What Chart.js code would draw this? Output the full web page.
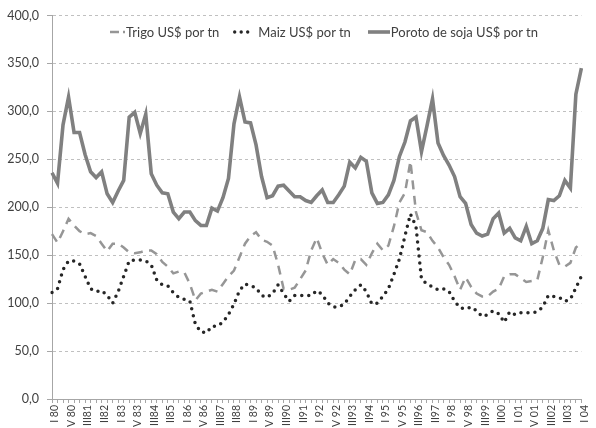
<!DOCTYPE html>
<html>
<head>
<meta charset="utf-8">
<script src="https://cdn.jsdelivr.net/npm/chart.js@4.4.1/dist/chart.umd.min.js"></script>
<style>
html, body { margin: 0; padding: 0; overflow: hidden; background: #fff; }
#caja { position: relative; width: 596px; height: 428px; overflow: hidden; }
#leyenda {
    position: absolute; left: 52px; width: 544px; top: 23px; height: 18px;
    display: flex; justify-content: center; align-items: center;
    font-family: Lato, "Open Sans", sans-serif; font-size: 13px; color: #404040;
    white-space: nowrap;
}
#leyenda .item { display: flex; align-items: center; }
#leyenda svg { display: block; }
</style>
</head>
<body>
<div id="caja">
    <canvas id="grafico" width="596" height="442"></canvas>
    <div id="leyenda"></div>
</div>
<script>
// trimestres I 80 ... I 04, con etiqueta cada 3 trimestres
const romanos = ['I ', 'II', 'III', 'IV '];
const categorias = [];
for (let a = 80; a <= 104; a++) {
    for (let t = 0; t < 4; t++) {
        if (categorias.length < 97) categorias.push(romanos[t] + String(a % 100).padStart(2, '0'));
    }
}

const trigo = [172, 163, 175, 188, 181, 175, 172, 173, 170, 162, 154, 162, 162, 158, 153, 152, 153, 155, 155, 151,
    143, 138, 131, 133, 132, 120, 103, 110, 112, 114, 112, 120, 128, 134, 148, 162, 170, 174, 166, 164,
    160, 140, 115, 114, 116, 125, 134, 155, 168, 152, 140, 146, 142, 135, 130, 145, 146, 140, 152, 162,
    155, 160, 180, 205, 215, 248, 195, 176, 174, 165, 158, 148, 140, 128, 114, 127, 117, 110, 107, 107,
    112, 115, 128, 130, 130, 126, 122, 123, 124, 148, 176, 155, 140, 138, 142, 158, 163];

const maiz = [111, 115, 135, 144, 144, 141, 128, 115, 112, 113, 108, 100, 112, 128, 144, 145, 145, 144, 140, 124,
    119, 118, 111, 106, 104, 102, 78, 70, 69, 76, 76, 80, 88, 99, 113, 120, 118, 116, 108, 106,
    110, 119, 110, 102, 108, 108, 108, 108, 113, 109, 100, 96, 96, 99, 107, 114, 119, 112, 99, 100,
    107, 115, 130, 146, 170, 193, 180, 125, 120, 117, 114, 115, 112, 102, 95, 94, 96, 92, 86, 88,
    92, 89, 80, 91, 88, 90, 90, 90, 91, 96, 108, 107, 106, 102, 104, 116, 128];

const soja = [236, 225, 286, 315, 278, 278, 255, 237, 231, 237, 214, 205, 217, 228, 294, 299, 277, 297, 235, 223,
    215, 214, 195, 188, 195, 195, 186, 181, 181, 199, 196, 210, 230, 287, 315, 289, 288, 265, 232, 210,
    212, 222, 223, 217, 211, 211, 207, 205, 212, 218, 205, 205, 213, 222, 247, 241, 252, 248, 215, 204,
    205, 213, 228, 253, 268, 290, 294, 258, 285, 313, 267, 254, 244, 232, 211, 204, 182, 173, 170, 172,
    188, 194, 173, 178, 168, 165, 180, 162, 165, 178, 208, 207, 212, 228, 220, 318, 345];

const fuente = 'Lato, "Open Sans", sans-serif';
const ctx = document.getElementById('grafico').getContext('2d');

const grafico = new Chart(ctx, {
    type: 'line',
    data: {
        labels: categorias,
        datasets: [
            {
                label: 'Trigo US$ por tn', data: trigo,
                borderColor: '#969696', borderWidth: 2.5, borderDash: [9, 6.5],
                pointRadius: 0, tension: 0, fill: false
            },
            {
                label: 'Maiz US$ por tn', data: maiz,
                borderColor: '#262626', borderWidth: 3.5, borderDash: [0, 7], borderCapStyle: 'round',
                pointRadius: 0, tension: 0, fill: false
            },
            {
                label: 'Poroto de soja US$ por tn', data: soja,
                borderColor: '#808080', borderWidth: 3.6,
                pointRadius: 0, tension: 0, fill: false
            }
        ]
    },
    options: {
        responsive: false,
        animation: false,
        layout: { padding: { top: 12, right: 1, left: 0, bottom: 0 } },
        plugins: {
            tooltip: { enabled: false },
            legend: { display: false }
        },
        scales: {
            x: {
                offset: false,
                grid: { drawOnChartArea: false, drawTicks: true, tickLength: 4, color: '#a6a6a6' },
                border: { color: '#a6a6a6' },
                ticks: {
                    autoSkip: false, minRotation: 90, maxRotation: 90, padding: 2, labelOffset: 3,
                    color: '#404040', font: { family: fuente, size: 10.5 },
                    callback: (v, i) => (i % 3 === 0 ? categorias[i] : '')
                },
                afterFit: s => { s.height = 43; }
            },
            y: {
                min: 0, max: 400,
                grid: { color: '#c0c0c0', tickColor: '#a6a6a6', tickLength: 5 },
                border: { color: '#a6a6a6', dash: [3, 3] },
                ticks: {
                    stepSize: 50, padding: 8, color: '#404040',
                    font: { family: fuente, size: 12.5 },
                    callback: v => v.toFixed(1).replace('.', ',')
                },
                afterFit: s => { s.width = 52; }
            }
        }
    }
});

// leyenda en html sobre el area del grafico
const muestras = [
    { ancho: 15, sep: 1, despues: 14, trazo: 'stroke-width="2.5" stroke-dasharray="9,4"' },
    { ancho: 17, sep: 8, despues: 17, trazo: 'stroke-width="3.4" stroke-dasharray="0,6.5" stroke-linecap="round"' },
    { ancho: 22, sep: 1, despues: 0, trazo: 'stroke-width="3.6"' }
];
const leyenda = document.getElementById('leyenda');
grafico.data.datasets.forEach((ds, i) => {
    const m = muestras[i];
    const x0 = i === 1 ? 1.7 : 0;
    const item = document.createElement('span');
    item.className = 'item';
    item.style.marginRight = m.despues + 'px';
    item.innerHTML = '<svg width="' + m.ancho + '" height="8" style="margin-right:' + m.sep + 'px">' +
        '<line x1="' + x0 + '" y1="4" x2="' + (m.ancho - x0) + '" y2="4" stroke="' + ds.borderColor + '" ' + m.trazo + '/></svg>' +
        '<span>' + ds.label + '</span>';
    leyenda.appendChild(item);
});
</script>
</body>
</html>
